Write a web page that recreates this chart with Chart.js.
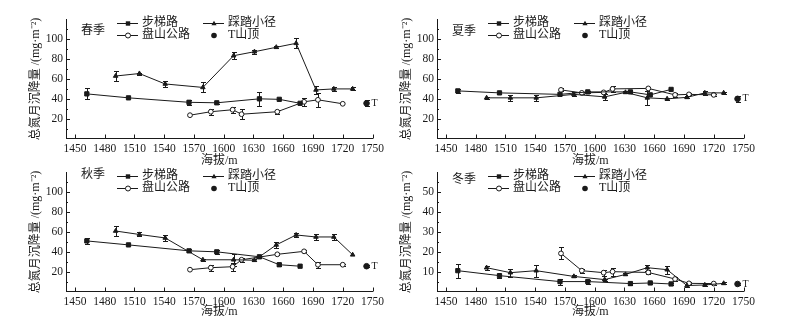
<!DOCTYPE html>
<html>
<head>
<meta charset="utf-8">
<script src="https://cdn.jsdelivr.net/npm/chart.js@4.4.0/dist/chart.umd.min.js"></script>
<style>
body{margin:0;background:#fff;width:794px;height:330px;position:relative;overflow:hidden}
canvas{position:absolute}
</style>
</head>
<body>
<canvas id="c1" width="397" height="168" style="left:0;top:0"></canvas>
<canvas id="c2" width="397" height="168" style="left:371px;top:0"></canvas>
<canvas id="c3" width="397" height="168" style="left:0;top:153px"></canvas>
<canvas id="c4" width="397" height="168" style="left:371px;top:153px"></canvas>
<script>
// 海拔 (m) of the sampling points
const altStair = [1462, 1504, 1565, 1593, 1636, 1656, 1677];
const altTrail = [1491, 1515, 1541, 1579, 1610, 1631, 1653, 1673, 1693, 1711, 1730];
const altRoad  = [1566, 1587, 1609, 1618, 1654, 1681, 1695, 1720];
const altTop   = [1744];
const xTicks = [1450, 1480, 1510, 1540, 1570, 1600, 1630, 1660, 1690, 1720, 1750];

// 春季
const springStair = [45, 41, 36.5, 36, 40, 39.5, 35.5];
const springStairErr = [5.5, 0, 2.5, 1, 7, 0, 0];
const springTrail = [63, 65.5, 55, 51.5, 83.5, 87.5, 92, 96, 49, 50, 50];
const springTrailErr = [5, 1, 3, 5, 3.5, 2, 1, 5, 4, 2, 1.5];
const springRoad = [23.5, 27, 29, 24.5, 27, 37, 39, 35];
const springRoadErr = [0, 3, 3, 5, 2, 4, 7, 0];
const springTop = [35.5];
const springTopErr = [3];

// 夏季
const summerStair = [48, 46, 44.5, 47, 47, 44, 49.5];
const summerStairErr = [2, 1, 0, 1, 1.5, 0, 0];
const summerTrail = [41, 41, 41, 44.5, 42, 46.5, 41, 40, 41.5, 46, 46];
const summerTrailErr = [1, 3, 3, 2, 3, 1, 7, 1, 1, 2, 1];
const summerRoad = [49, 46, 46.5, 50, 50.5, 44, 44.5, 44];
const summerRoadErr = [1.5, 1, 1, 3, 1, 2, 1, 1];
const summerTop = [40];
const summerTopErr = [3];

// 秋季
const autumnStair = [51, 47, 41, 40, 35, 27, 25.5];
const autumnStairErr = [3, 0, 1.5, 2, 1, 1.5, 0];
const autumnTrail = [61, 57.5, 54, 32, 32, 31.5, 47, 57, 55, 55, 37];
const autumnTrailErr = [5, 2, 3, 1, 6, 1, 3, 2, 3, 3, 0];
const autumnRoad = [22, 24, 25, 32, 37.5, 40.5, 27, 27];
const autumnRoadErr = [0, 3, 4, 2, 1, 1, 3, 1];
const autumnTop = [25.5];
const autumnTopErr = [1];

// 冬季
const winterStair = [10.5, 8, 5, 5, 4, 4.3, 3.8];
const winterStairErr = [3.5, 1, 1.5, 1, 0.5, 0.5, 0.5];
const winterTrail = [12, 9.5, 10.5, 7.6, 6, 8.6, 12, 11, 3, 3.3, 4.1];
const winterTrailErr = [1, 2, 3, 0.5, 0.5, 0.5, 1.5, 2, 0.5, 0.5, 0.5];
const winterRoad = [19.2, 10.5, 9.5, 10, 9.6, 6.3, 4.1, 4];
const winterRoadErr = [3, 1, 1.5, 2, 1, 1, 0.5, 0.5];
const winterTop = [3.8];
const winterTopErr = [0.5];

const serif = "'Liberation Serif', 'Noto Sans CJK SC', serif";
const ink = '#1a1a1a';

function pts(xs, ys) { return xs.map((x, i) => ({x: x, y: ys[i]})); }

function marker(ctx, style, x, y) {
  ctx.fillStyle = ink; ctx.strokeStyle = ink; ctx.lineWidth = 1;
  ctx.beginPath();
  if (style === 'rect') {
    ctx.fillRect(x - 2.2, y - 2.2, 4.4, 4.4);
  } else if (style === 'triangle') {
    ctx.moveTo(x, y - 2.8); ctx.lineTo(x + 2.6, y + 1.8); ctx.lineTo(x - 2.6, y + 1.8); ctx.closePath(); ctx.fill();
  } else if (style === 'open') {
    ctx.arc(x, y, 2.5, 0, Math.PI * 2); ctx.fillStyle = '#fff'; ctx.fill(); ctx.stroke();
  } else {
    ctx.arc(x, y, 2.8, 0, Math.PI * 2); ctx.fill();
  }
}

// error bars, drawn before the markers
const errBars = {
  id: 'errBars',
  beforeDatasetsDraw(chart) {
    const {ctx, scales: {x, y}} = chart;
    ctx.save();
    ctx.strokeStyle = ink; ctx.lineWidth = 1;
    chart.data.datasets.forEach(ds => {
      ds.data.forEach((p, i) => {
        const e = ds.err[i];
        if (!e) return;
        const px = Math.round(x.getPixelForValue(p.x)) + 0.5;
        const y1 = Math.round(y.getPixelForValue(p.y + e)) + 0.5;
        const y2 = Math.round(y.getPixelForValue(p.y - e)) + 0.5;
        ctx.beginPath();
        ctx.moveTo(px, y1); ctx.lineTo(px, y2);
        ctx.moveTo(px - 2.5, y1); ctx.lineTo(px + 2.5, y1);
        ctx.moveTo(px - 2.5, y2); ctx.lineTo(px + 2.5, y2);
        ctx.stroke();
      });
    });
    ctx.restore();
  }
};

// inward ticks, legend, season label and the T mark
const decor = {
  id: 'decor',
  afterDraw(chart) {
    const {ctx, chartArea: a, scales: {x, y}} = chart;
    const o = chart.options.plugins.decor;
    ctx.save();
    ctx.strokeStyle = ink; ctx.lineWidth = 1;
    ctx.beginPath();
    x.ticks.forEach(t => {
      const px = Math.round(x.getPixelForValue(t.value)) + 0.5;
      ctx.moveTo(px, a.bottom); ctx.lineTo(px, a.bottom - 4);
    });
    for (let v = o.step / 2; v < y.max; v += o.step / 2) {
      const py = Math.round(y.getPixelForValue(v)) + 0.5;
      const major = Math.abs(v / o.step - Math.round(v / o.step)) < 0.01;
      ctx.moveTo(a.left, py); ctx.lineTo(a.left + (major ? 4 : 2), py);
    }
    ctx.stroke();

    // T next to the summit point
    const top = chart.data.datasets[3].data[0];
    ctx.fillStyle = ink;
    ctx.font = '10px ' + serif;
    ctx.textBaseline = 'middle';
    ctx.fillText('T', x.getPixelForValue(top.x) + 5, y.getPixelForValue(top.y));

    // legend
    const cl = a.left, r1 = a.top + 3.5, r2 = a.top + 15.5;
    ctx.font = '12px ' + serif;
    ctx.fillText(o.season, cl + 15, a.top + o.seasonY);
    ctx.font = '12px ' + serif;
    const rows = [
      ['rect', '步梯路', cl + 51, r1, true],
      ['triangle', '踩踏小径', cl + 137, r1, true],
      ['open', '盘山公路', cl + 51, r2, true],
      ['dot', 'T山顶', cl + 137, r2, false]
    ];
    rows.forEach(([s, label, lx, ly, line]) => {
      if (line) {
        ctx.strokeStyle = ink;
        ctx.beginPath(); ctx.moveTo(lx, Math.round(ly) + 0.5); ctx.lineTo(lx + 21, Math.round(ly) + 0.5); ctx.stroke();
      }
      marker(ctx, s, lx + 11, Math.round(ly) + 0.5);
      ctx.fillStyle = ink;
      ctx.fillText(label, lx + 25, ly);
    });
    ctx.restore();
  }
};

function makePanel(id, season, seasonY, yMax, yStep, stair, stairErr, trail, trailErr, road, roadErr, top, topErr, titlePad) {
  const base = {borderColor: ink, borderWidth: 1, pointBorderColor: ink, pointBorderWidth: 1, tension: 0};
  new Chart(document.getElementById(id), {
    type: 'line',
    data: {
      datasets: [
        Object.assign({label: '步梯路', data: pts(altStair, stair), err: stairErr,
          pointStyle: 'rect', pointRadius: 3, pointBackgroundColor: ink}, base),
        Object.assign({label: '踩踏小径', data: pts(altTrail, trail), err: trailErr,
          pointStyle: 'triangle', pointRadius: 2.6, pointBackgroundColor: ink}, base),
        Object.assign({label: '盘山公路', data: pts(altRoad, road), err: roadErr,
          pointStyle: 'circle', pointRadius: 2.4, pointBackgroundColor: '#fff'}, base),
        Object.assign({label: 'T山顶', data: pts(altTop, top), err: topErr, showLine: false,
          pointStyle: 'circle', pointRadius: 2.8, pointBackgroundColor: ink}, base)
      ]
    },
    options: {
      responsive: false,
      animation: false,
      devicePixelRatio: 1,
      layout: {padding: {left: 26, right: 24.5, top: 19.5, bottom: 0}},
      plugins: {
        legend: {display: false},
        tooltip: {enabled: false},
        decor: {season: season, seasonY: seasonY, step: yStep}
      },
      scales: {
        x: {
          type: 'linear', min: 1441, max: 1750,
          afterBuildTicks: s => { s.ticks = xTicks.map(v => ({value: v})); },
          afterFit: s => { s.height = 29.5; },
          grid: {display: false, drawTicks: false},
          border: {display: true, color: ink, width: 1},
          ticks: {font: {family: serif, size: 11.5}, color: ink, padding: 4, maxRotation: 0, autoSkip: false,
            callback: v => String(v)},
          title: {display: true, text: '海拔/m', color: ink, font: {family: serif, size: 12}, padding: {top: 0, bottom: titlePad}}
        },
        y: {
          min: 0, max: yMax,
          afterBuildTicks: s => {
            const t = [];
            for (let v = 0; v <= yMax; v += yStep) t.push({value: v});
            s.ticks = t;
          },
          afterFit: s => { s.width = 40; },
          grid: {display: false, drawTicks: false},
          border: {display: true, color: ink, width: 1},
          ticks: {font: {family: serif, size: 11.5}, color: ink, padding: 3,
            callback: v => (v === 0 || v === yMax) ? '' : String(v)},
          title: {display: true, text: '总氮月沉降量 /(mg·m⁻²)', color: ink, font: {family: serif, size: 12}, padding: {top: 3, bottom: 0}}
        }
      }
    },
    plugins: [errBars, decor]
  });
}

makePanel('c1', '春季', 11.5, 120, 20, springStair, springStairErr, springTrail, springTrailErr, springRoad, springRoadErr, springTop, springTopErr, 0);
makePanel('c2', '夏季', 12.5, 120, 20, summerStair, summerStairErr, summerTrail, summerTrailErr, summerRoad, summerRoadErr, summerTop, summerTopErr, 0);
makePanel('c3', '秋季', 2, 120, 20, autumnStair, autumnStairErr, autumnTrail, autumnTrailErr, autumnRoad, autumnRoadErr, autumnTop, autumnTopErr, 2);
makePanel('c4', '冬季', 7, 60, 10, winterStair, winterStairErr, winterTrail, winterTrailErr, winterRoad, winterRoadErr, winterTop, winterTopErr, 2);
</script>
</body>
</html>
